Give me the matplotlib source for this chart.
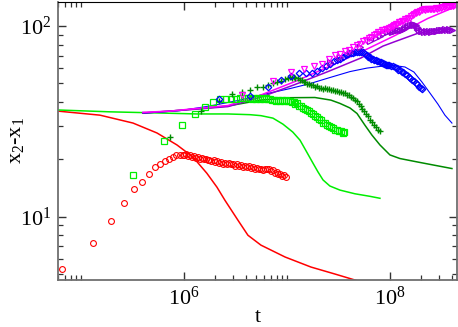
import math
import matplotlib
matplotlib.use('Agg')
import matplotlib.pyplot as plt
from matplotlib.ticker import FixedLocator, LogLocator, FuncFormatter, NullFormatter

plt.rcParams['font.family'] = ['Liberation Serif', 'DejaVu Serif']
plt.rcParams['mathtext.fontset'] = 'custom'
plt.rcParams['mathtext.rm'] = 'Liberation Serif'
plt.rcParams['mathtext.it'] = 'Liberation Serif:italic'

# ---- red: circles + line
red_pts_t = [6.5e4, 1.3e5, 1.95e5, 2.6e5, 3.25e5, 3.9e5, 4.55e5, 5.2e5, 5.85e5, 6.5e5,
             7.15e5, 7.8e5, 8.45e5, 9.1e5, 9.75e5,
             1.00e6, 1.045e6, 1.09e6, 1.14e6, 1.19e6, 1.25e6, 1.30e6, 1.36e6, 1.42e6, 1.49e6,
             1.55e6, 1.62e6, 1.70e6, 1.77e6, 1.85e6, 1.94e6, 2.02e6, 2.11e6, 2.21e6, 2.31e6,
             2.41e6, 2.52e6, 2.63e6, 2.75e6, 2.88e6, 3.01e6, 3.14e6, 3.28e6, 3.43e6, 3.59e6,
             3.75e6, 3.91e6, 4.09e6, 4.27e6, 4.47e6, 4.67e6, 4.88e6, 5.10e6, 5.33e6, 5.57e6,
             5.82e6, 6.08e6, 6.35e6, 6.64e6, 6.94e6, 7.25e6, 7.58e6, 7.92e6, 8.27e6, 8.65e6,
             9.04e6, 9.44e6, 9.87e6]
red_pts_y = [5.32, 7.26, 9.5, 11.75, 13.97, 15.3, 16.8, 18.2, 18.9, 19.5,
             20.1, 20.6, 21.0, 21.1, 21.2,
             21.1, 21.3, 20.9, 21.0, 20.7, 20.8, 20.4, 20.6, 20.2, 20.4,
             20.0, 20.2, 19.8, 19.9, 19.6, 19.8, 19.3, 19.5, 19.2, 19.4,
             19.0, 19.2, 18.9, 19.1, 18.8, 18.9, 18.5, 18.8, 18.5, 18.7,
             18.3, 18.5, 18.2, 18.4, 18.1, 18.3, 17.9, 18.1, 17.7, 17.9,
             17.6, 17.9, 17.7, 17.8, 17.4, 17.5, 17.0, 17.1, 16.7, 16.8,
             16.4, 16.5, 16.2]
red_line_t = [6.0e4, 1.53e5, 3.2e5, 5.47e5, 8.55e5, 1.22e6, 1.67e6, 2.09e6, 2.5e6, 3.34e6,
              4.18e6, 5.59e6, 9.6e6, 1.71e7, 2.92e7, 4.57e7, 8.0e7]
red_line_y = [35.8, 34.1, 31.0, 27.5, 23.8, 20.6, 16.9, 14.3, 12.2, 9.6,
              8.0, 7.1, 6.15, 5.45, 5.01, 4.66, 4.25]

# ---- light green: squares + line
grn_pts_t = [3.2e5, 6.4e5, 9.6e5, 1.28e6, 1.6e6, 1.92e6, 2.24e6, 2.56e6, 2.88e6, 3.2e6, 3.52e6,
             3.84e6, 4.16e6,
             4.40e6, 4.60e6, 4.81e6, 5.02e6, 5.25e6, 5.48e6, 5.73e6, 5.99e6, 6.26e6, 6.54e6,
             6.83e6, 7.14e6, 7.46e6, 7.80e6, 8.15e6, 8.51e6, 8.90e6, 9.30e6, 9.71e6, 1.015e7,
             1.06e7, 1.11e7, 1.16e7, 1.21e7, 1.26e7, 1.32e7, 1.38e7, 1.44e7, 1.51e7, 1.57e7,
             1.64e7, 1.72e7, 1.79e7, 1.88e7, 1.96e7, 2.05e7, 2.14e7, 2.24e7, 2.34e7, 2.44e7,
             2.55e7, 2.67e7, 2.79e7, 2.91e7, 3.04e7, 3.18e7, 3.32e7, 3.47e7, 3.62e7]
grn_pts_y = [16.6, 24.9, 30.1, 34.4, 37.6, 39.9, 41.3, 41.3, 41.4, 41.4, 41.8,
             41.8, 41.7,
             41.8, 41.5, 41.9, 41.6, 41.9, 41.5, 41.8, 41.4, 41.7, 41.2,
             41.3, 40.8, 41.1, 40.7, 41.0, 40.6, 40.9, 40.5, 40.8, 40.3,
             40.4, 39.8, 39.9, 39.2, 39.3, 38.3, 38.1, 37.2, 36.9, 36.1,
             35.8, 34.9, 34.6, 33.7, 33.2, 32.4, 32.0, 31.2, 30.9, 30.2,
             30.0, 29.4, 29.2, 28.6, 28.6, 28.1, 28.1, 27.6, 27.7]
grn_line_t = [6.0e4, 1.91e5, 4.68e5, 1.34e6, 2.67e6, 4.38e6, 5.59e6, 7.31e6, 9.14e6, 1.14e7,
              1.34e7, 1.56e7, 1.79e7, 2.0e7, 2.24e7, 2.61e7, 3.27e7, 4.57e7, 6.39e7, 8.0e7]
grn_line_y = [36.3, 35.5, 35.1, 34.6, 34.6, 34.3, 33.9, 32.9, 30.6, 27.8,
              25.2, 21.8, 19.1, 17.2, 15.6, 14.5, 13.8, 13.2, 12.8, 12.5]

# ---- dark green: pluses + line
dkg_pts_t = [7.3e5, 1.46e6, 2.19e6, 2.92e6, 3.65e6, 4.38e6, 5.11e6, 5.84e6, 6.57e6, 7.3e6,
             8.03e6, 8.76e6, 9.49e6,
             1.02e7, 1.066e7, 1.11e7, 1.16e7, 1.21e7, 1.27e7, 1.33e7, 1.39e7, 1.45e7, 1.51e7,
             1.58e7, 1.65e7, 1.73e7, 1.80e7, 1.88e7, 1.97e7, 2.06e7, 2.15e7, 2.25e7, 2.35e7,
             2.45e7, 2.56e7, 2.68e7, 2.80e7, 2.92e7, 3.05e7, 3.19e7, 3.34e7, 3.49e7, 3.64e7,
             3.81e7, 3.98e7, 4.16e7, 4.34e7, 4.54e7, 4.74e7, 4.96e7, 5.18e7, 5.41e7, 5.66e7,
             5.91e7, 6.18e7, 6.45e7, 6.74e7, 7.05e7, 7.36e7, 7.70e7, 8.0e7]
dkg_pts_y = [26.2, 35.8, 40.5, 44.0, 45.3, 46.3, 47.7, 48.1, 49.2, 50.0,
             50.8, 51.8, 52.6,
             53.4, 53.8, 53.6, 54.0, 53.5, 53.2, 52.3, 52.0, 51.0, 50.8,
             49.9, 49.8, 49.0, 49.1, 48.2, 48.3, 47.4, 47.6, 47.0, 47.2,
             46.6, 46.8, 46.1, 46.3, 45.7, 45.9, 45.2, 45.3, 44.6, 44.5,
             43.6, 43.4, 42.4, 42.0, 40.9, 40.3, 39.0, 38.3, 36.9, 36.0,
             34.6, 33.6, 32.3, 31.5, 30.2, 29.6, 28.6, 28.2]
dkg_line_t = [4.0e5, 7.31e5, 1.43e6, 2.67e6, 5.59e6, 1.07e7, 1.87e7, 2.67e7, 3.27e7, 4.09e7,
              4.79e7, 5.72e7, 6.69e7, 8.0e7, 1.0e8, 1.25e8, 1.83e8, 2.61e8, 4.0e8]
dkg_line_y = [35.0, 35.8, 36.9, 38.1, 40.9, 42.1, 42.2, 40.9, 39.3, 37.2,
              34.8, 30.2, 26.8, 23.8, 21.1, 20.2, 19.4, 18.7, 17.9]

# ---- blue: diamonds + line
blu_pts_t = [2.2e6, 4.4e6, 6.6e6, 8.8e6, 1.1e7, 1.32e7, 1.54e7, 1.76e7, 1.98e7, 2.2e7,
             2.42e7, 2.64e7, 2.86e7, 3.08e7, 3.3e7, 3.52e7, 3.74e7, 3.96e7, 4.18e7, 4.4e7,
             4.62e7, 4.84e7, 5.06e7, 5.28e7, 5.5e7, 5.72e7, 5.94e7, 6.16e7, 6.38e7, 6.6e7,
             6.82e7, 7.04e7, 7.26e7, 7.48e7, 7.7e7, 7.92e7, 8.14e7, 8.36e7, 8.58e7, 8.8e7,
             9.02e7, 9.24e7, 9.46e7, 9.68e7, 9.9e7, 1.03e8, 1.07e8, 1.11e8, 1.16e8, 1.2e8,
             1.25e8, 1.3e8, 1.35e8, 1.41e8, 1.46e8, 1.52e8, 1.58e8, 1.65e8, 1.71e8, 1.78e8,
             1.85e8, 1.93e8, 2.0e8, 2.03e8]
blu_pts_y = [41.3, 43.2, 48.2, 52.1, 55.0, 56.7, 56.4, 56.9, 58.3, 60.0,
             61.7, 63.5, 65.3, 66.4, 67.5, 68.9, 70.1, 71.2, 71.8, 72.6,
             73.3, 72.8, 73.4, 72.7, 72.9, 71.3, 70.4, 69.0, 68.6, 67.4,
             67.0, 66.2, 66.4, 65.4, 65.6, 64.5, 64.7, 63.8, 64.0, 63.1,
             63.3, 62.6, 62.8, 62.2, 62.4, 61.6, 61.7, 60.9, 60.5, 59.1,
             58.6, 57.6, 57.1, 55.9, 55.4, 54.2, 53.7, 52.4, 51.8, 50.4,
             49.8, 48.2, 47.4, 46.7]
blu_line_t = [4.0e5, 9.14e5, 1.79e6, 3.5e6, 6.11e6, 1.07e7, 1.67e7, 2.61e7, 4.09e7, 5.99e7,
              8.55e7, 1.09e8, 1.4e8, 1.71e8, 2.05e8, 2.45e8, 2.92e8, 3.42e8, 4.0e8]
blu_line_y = [34.9, 36.0, 38.1, 40.9, 44.0, 47.0, 49.9, 53.7, 57.7, 60.2,
              61.7, 62.1, 61.0, 57.4, 50.8, 44.5, 39.0, 34.1, 31.0]

# ---- magenta: triangles + line
mag_pts_t = [3.65e6, 7.3e6, 1.1e7, 1.46e7, 1.83e7, 2.19e7, 2.56e7, 2.92e7, 3.29e7, 3.65e7,
             4.02e7, 4.38e7, 4.75e7, 5.11e7, 5.48e7, 5.84e7, 6.21e7, 6.57e7, 6.94e7, 7.3e7,
             7.67e7, 8.03e7, 8.4e7, 8.76e7, 9.13e7, 9.49e7, 9.86e7, 1.02e8, 1.06e8, 1.1e8,
             1.14e8, 1.18e8, 1.22e8, 1.26e8, 1.31e8, 1.35e8, 1.4e8, 1.45e8, 1.5e8, 1.55e8,
             1.61e8, 1.66e8, 1.72e8, 1.78e8, 1.85e8, 1.91e8, 1.98e8, 2.05e8, 2.12e8, 2.19e8,
             2.27e8, 2.35e8, 2.43e8, 2.52e8, 2.61e8, 2.7e8, 2.79e8, 2.89e8, 2.99e8, 3.1e8,
             3.21e8, 3.32e8, 3.44e8, 3.56e8, 3.68e8, 3.81e8, 3.95e8, 4.09e8, 4.23e8, 4.38e8]
mag_pts_y = [43.5, 51.2, 57.4, 59.9, 61.7, 63.6, 66.8, 70.2, 71.7, 73.6,
             75.3, 77.4, 79.6, 80.8, 83.9, 85.0, 86.9, 87.8, 90.2, 90.9,
             93.0, 93.3, 94.8, 95.0, 96.3, 96.5, 98.2, 98.6, 100.4, 100.9,
             102.5, 102.8, 104.7, 105.0, 106.8, 106.9, 108.3, 108.3, 110.0, 110.8,
             113.2, 113.8, 115.6, 116.4, 117.9, 118.6, 120.3, 120.8, 122.5, 122.0,
             123.1, 122.4, 123.2, 122.6, 123.4, 123.0, 124.0, 123.6, 124.8, 124.9,
             126.0, 125.6, 126.8, 126.5, 127.4, 127.0, 128.0, 127.6, 128.6, 128.8]
mag_line_t = [4.0e5, 7.31e5, 1.34e6, 2.67e6, 5.59e6, 1.2e7, 2.5e7, 5.23e7, 1.12e8, 2.34e8, 4.27e8]
mag_line_y = [35.3, 35.8, 37.0, 38.3, 43.5, 51.2, 61.0, 73.1, 89.2, 109.7, 125.8]

# ---- purple: triangles + line
pur_pts_t = [2.61e7, 3.27e7, 4.09e7, 5.12e7, 6.39e7, 7.3e7, 8.0e7, 8.6e7, 9.35e7, 1.0e8,
             1.04e8, 1.08e8, 1.12e8, 1.17e8, 1.21e8, 1.26e8, 1.31e8, 1.36e8, 1.41e8, 1.46e8,
             1.51e8, 1.56e8, 1.62e8, 1.67e8, 1.73e8, 1.79e8, 1.83e8, 1.87e8, 1.93e8, 2.0e8,
             2.07e8, 2.15e8, 2.23e8, 2.31e8, 2.4e8, 2.49e8, 2.58e8, 2.68e8, 2.78e8, 2.88e8,
             2.99e8, 3.1e8, 3.22e8, 3.34e8, 3.46e8, 3.59e8, 3.72e8, 3.86e8, 4.0e8]
pur_pts_y = [65.1, 69.2, 73.5, 78.1, 83.4, 86.5, 88.6, 90.6, 92.6, 93.8,
             93.6, 94.4, 94.1, 94.9, 94.8, 95.6, 95.7, 97.0, 97.6, 99.4,
             100.1, 101.2, 101.5, 102.4, 101.6, 100.8, 99.2, 97.4, 95.6, 94.1,
             93.9, 93.3, 93.8, 93.2, 93.7, 93.5, 94.1, 93.8, 94.6, 94.4,
             95.3, 95.0, 95.7, 95.5, 96.0, 95.7, 96.0, 95.5, 95.3]
pur_line_t = [4.0e5, 1.34e6, 2.67e6, 5.59e6, 1.2e7, 2.5e7, 5.23e7, 8.55e7, 1.12e8, 1.83e8,
              2.87e8, 4.0e8]
pur_line_y = [35.0, 36.7, 37.8, 42.4, 49.4, 57.7, 68.0, 78.5, 82.9, 91.3, 95.9, 95.9]

c_red = '#ff0000'
c_grn = '#00ee00'
c_dkg = '#008b00'
c_blu = '#0000ff'
c_mag = '#ff00ff'
c_pur = '#9400d3'

fig = plt.figure(figsize=(4.58, 3.27), dpi=100)
ax = fig.add_axes([0.1266, 0.1437, 0.871, 0.850])

lw = 1.1
ax.plot(red_line_t, red_line_y, color=c_red, lw=lw)
ax.plot(grn_line_t, grn_line_y, color=c_grn, lw=lw)
ax.plot(dkg_line_t, dkg_line_y, color=c_dkg, lw=lw)
ax.plot(blu_line_t, blu_line_y, color=c_blu, lw=0.8)
ax.plot(pur_line_t, pur_line_y, color=c_pur, lw=lw)
ax.plot(mag_line_t, mag_line_y, color=c_mag, lw=lw)

ax.plot(red_pts_t, red_pts_y, 'o', ls='none', ms=4.2, mfc='none', mec=c_red, mew=0.8)
ax.plot(grn_pts_t, grn_pts_y, 's', ls='none', ms=3.8, mfc='none', mec=c_grn, mew=0.9)
ax.plot(dkg_pts_t, dkg_pts_y, '+', ls='none', ms=4.5, mec=c_dkg, mew=1.0)
ax.plot(blu_pts_t, blu_pts_y, 'D', ls='none', ms=3.3, mfc='none', mec=c_blu, mew=0.9)
ax.plot(pur_pts_t, pur_pts_y, '>', ls='none', ms=4.0, mfc='none', mec=c_pur, mew=0.9)
ax.plot(mag_pts_t, mag_pts_y, 'v', ls='none', ms=4.3, mfc='none', mec=c_mag, mew=0.9)

ax.set_xscale('log')
ax.set_yscale('log')
ax.set_xlim(5.98e4, 4.47e8)
ax.set_ylim(4.66, 133.6)

pow_fmt = FuncFormatter(lambda v, p: r'$10^{%d}$' % round(math.log10(v)))
ax.xaxis.set_major_locator(FixedLocator([1e4, 1e6, 1e8]))
ax.xaxis.set_minor_locator(FixedLocator([k * 10.0 ** e for e in (4, 6, 8) for k in range(2, 11)]))
ax.xaxis.set_major_formatter(pow_fmt)
ax.xaxis.set_minor_formatter(NullFormatter())
ax.yaxis.set_major_locator(LogLocator(base=10))
ax.yaxis.set_minor_locator(LogLocator(base=10, subs=range(2, 10)))
ax.yaxis.set_major_formatter(pow_fmt)
ax.yaxis.set_minor_formatter(NullFormatter())

ax.tick_params(which='both', direction='in', top=True, right=True, colors='#333333',
               labelcolor='black', labelsize=16)
ax.tick_params(which='major', length=6, width=1.0, pad=5)
ax.tick_params(which='minor', length=3.6, width=0.9)

for s in ('left', 'bottom', 'right'):
    ax.spines[s].set_color('#707070')
    ax.spines[s].set_linewidth(1.3)
ax.spines['top'].set_color('black')
ax.spines['top'].set_linewidth(0.8)

# axis titles placed by hand, close to the figure edge like the original
fig.text(258 / 458, 1 - 317 / 327, 't', fontsize=16, ha='center', va='center')
fig.text(17 / 458, 1 - 140 / 327, 'x$_2$-x$_1$', fontsize=16, ha='center', va='center',
         rotation=90)

fig.savefig('out.png', dpi=100)
